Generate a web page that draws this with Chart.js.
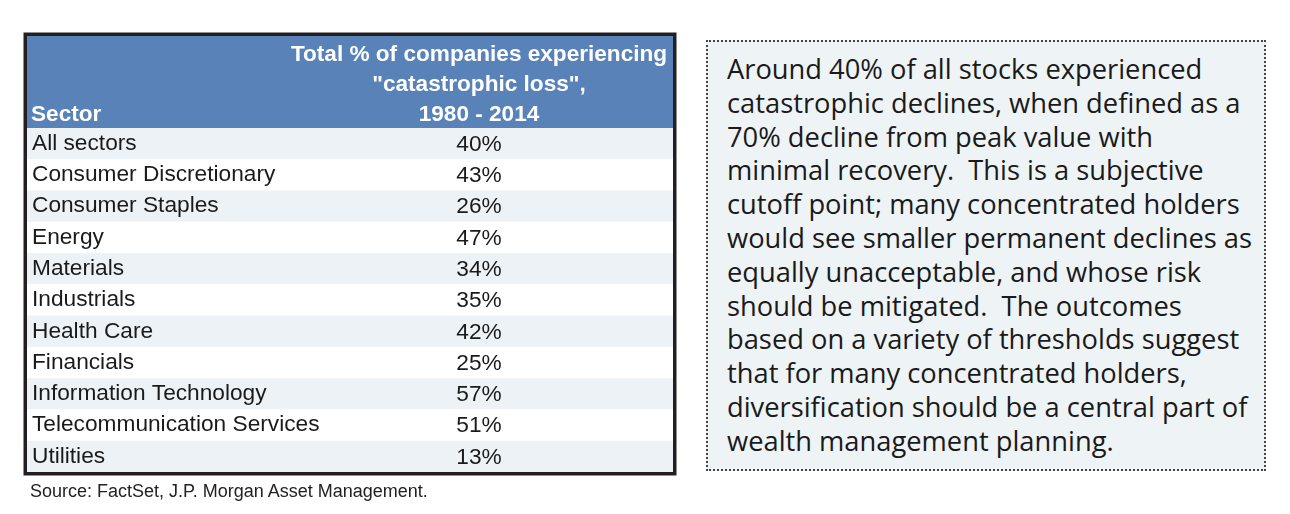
<!DOCTYPE html>
<html>
<head>
<meta charset="utf-8">
<script src="https://cdn.jsdelivr.net/npm/chart.js@4.4.1/dist/chart.umd.min.js"></script>
<style>
  html, body { margin: 0; padding: 0; background: #fff; }
  body { width: 1290px; height: 514px; position: relative; overflow: hidden; }
  #wrap { position: absolute; left: 0; top: 0; width: 690px; height: 514px; }
  #source {
    position: absolute; left: 30px; top: 481px;
    font: 18px "Liberation Sans", Arial, sans-serif; color: #222;
  }
  #note {
    position: absolute; left: 706px; top: 40px; width: 560px; height: 431px;
    box-sizing: border-box; border: 2px dotted #444; background: #eef3f6;
    padding: 10px 0 0 19px; white-space: pre;
    font: 27.3px/33.8px "Open Sans", sans-serif; color: #1a1a1a;
  }
</style>
</head>
<body>
<div id="wrap"><canvas id="table" width="690" height="514"></canvas></div>
<div id="source">Source: FactSet, J.P. Morgan Asset Management.</div>
<div id="note">Around 40% of all stocks experienced
catastrophic declines, when defined as a
70% decline from peak value with
minimal recovery.  This is a subjective
cutoff point; many concentrated holders
would see smaller permanent declines as
equally unacceptable, and whose risk
should be mitigated.  The outcomes
based on a variety of thresholds suggest
that for many concentrated holders,
diversification should be a central part of
wealth management planning.</div>
<script>
const sectors = ['All sectors', 'Consumer Discretionary', 'Consumer Staples', 'Energy',
  'Materials', 'Industrials', 'Health Care', 'Financials', 'Information Technology',
  'Telecommunication Services', 'Utilities'];
const lossPct = [40, 43, 26, 47, 34, 35, 42, 25, 57, 51, 13];
const headerLines = ['Total % of companies experiencing', '"catastrophic loss",', '1980 - 2014'];
const headerLeft = 'Sector';

const FONT = '"Liberation Sans", Arial, sans-serif';
const HEADER_H = 92;
const VALUE_COL_W = 388;
const BLUE = '#5882b8';
const STRIPE = '#edf2f6';

const tablePlugin = {
  id: 'tableLook',
  beforeDraw(chart) {
    const {ctx, chartArea: a, scales: {y}} = chart;
    const left = y.left - 5, right = a.right;
    const band = (a.bottom - a.top) / chart.data.labels.length;
    ctx.save();
    ctx.fillStyle = BLUE;
    ctx.fillRect(left, a.top - HEADER_H, right - left, HEADER_H);
    chart.data.labels.forEach((lab, i) => {
      const yc = y.getPixelForValue(i);
      ctx.fillStyle = i % 2 === 0 ? STRIPE : '#ffffff';
      ctx.fillRect(left, yc - band / 2, right - left, band);
    });
    ctx.restore();
  },
  afterDraw(chart) {
    const {ctx, chartArea: a, scales: {y}} = chart;
    const left = y.left - 5, right = a.right;
    const top = a.top - HEADER_H;
    const mid = right - VALUE_COL_W / 2;
    ctx.save();
    // values column
    ctx.fillStyle = '#1a1a1a';
    ctx.font = '22.7px ' + FONT;
    ctx.textAlign = 'center';
    ctx.textBaseline = 'middle';
    chart.data.datasets[0].data.forEach((v, i) => {
      ctx.fillText(v + '%', mid, y.getPixelForValue(i) + 1);
    });
    // header text
    ctx.fillStyle = '#ffffff';
    ctx.font = 'bold 22.6px ' + FONT;
    ctx.textBaseline = 'alphabetic';
    headerLines.forEach((t, i) => ctx.fillText(t, mid, top + 24.5 + i * 30));
    ctx.textAlign = 'left';
    ctx.fillText(headerLeft, y.left - 1, top + 84.5);
    // outer border
    ctx.strokeStyle = '#231f20';
    ctx.lineWidth = 3.5;
    ctx.strokeRect(left - 1.75, top - 1.75, right - left + 3.5, a.bottom - top + 3.5);
    ctx.restore();
  }
};

new Chart(document.getElementById('table'), {
  type: 'bar',
  data: {
    labels: sectors,
    datasets: [{
      label: 'Total % of companies experiencing "catastrophic loss", 1980 - 2014',
      data: lossPct,
      backgroundColor: 'rgba(0,0,0,0)',
      borderWidth: 0
    }]
  },
  options: {
    indexAxis: 'y',
    responsive: false,
    animation: false,
    layout: { padding: { left: 32, right: 17, top: 128, bottom: 42 } },
    plugins: { legend: { display: false }, tooltip: { enabled: false } },
    scales: {
      x: { display: false, min: 0, max: 100 },
      y: {
        grid: { display: false },
        border: { display: false },
        ticks: {
          crossAlign: 'far',
          padding: 0,
          color: '#1a1a1a',
          font: { family: FONT, size: 22.7 }
        },
        afterFit(s) { s.width = 300; }
      }
    }
  },
  plugins: [tablePlugin]
});
</script>
</body>
</html>
